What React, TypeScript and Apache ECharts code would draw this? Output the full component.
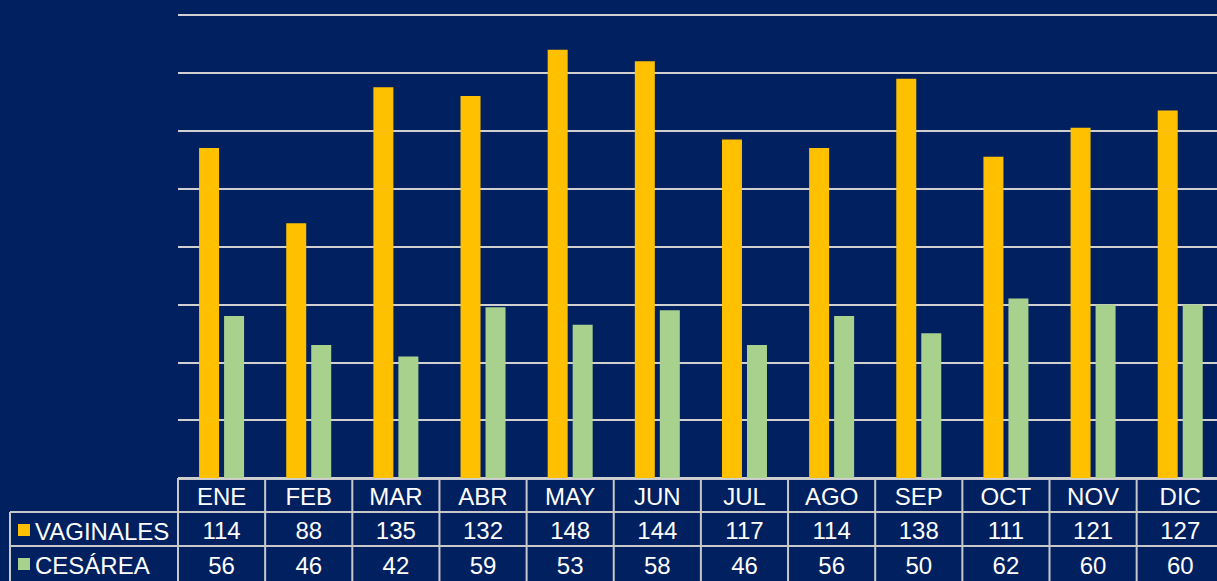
import React, { useEffect, useRef } from "react";
import * as echarts from "echarts";

const months = ["ENE", "FEB", "MAR", "ABR", "MAY", "JUN", "JUL", "AGO", "SEP", "OCT", "NOV", "DIC"];
const vaginales = [114, 88, 135, 132, 148, 144, 117, 114, 138, 111, 121, 127];
const cesarea = [56, 46, 42, 59, 53, 58, 46, 56, 50, 62, 60, 60];
const seriesNames = ["VAGINALES", "CESÁREA"];

const BG = "#002060";
const C_VAG = "#FFC000";
const C_CES = "#A9D18E";
const BORDER = "#C8C8C8";
const FONT = "Liberation Sans, Arial, sans-serif";
const FS = 24;

const W = 1240;
const H = 581;
const GRID_LEFT = 178;
const GRID_TOP = 15;
const GRID_BOTTOM_Y = 478;
const COL_W = 87.15;
const ROW_H = 34;

export default function App() {
  const ref = useRef<HTMLDivElement>(null);
  useEffect(() => {
    if (!ref.current) return;
    const chart = echarts.init(ref.current, null, { renderer: "svg" });
    const gridRight = W - (GRID_LEFT + COL_W * months.length);
    const tableRight = W;

    const graphics: any[] = [];
    graphics.push({ type: "line", shape: { x1: GRID_LEFT, y1: GRID_BOTTOM_Y + 1, x2: tableRight, y2: GRID_BOTTOM_Y + 1 }, style: { stroke: BORDER, lineWidth: 2 } });
    graphics.push({ type: "line", shape: { x1: 10, y1: GRID_BOTTOM_Y + ROW_H, x2: tableRight, y2: GRID_BOTTOM_Y + ROW_H }, style: { stroke: BORDER, lineWidth: 2 } });
    graphics.push({ type: "line", shape: { x1: 10, y1: GRID_BOTTOM_Y + 2 * ROW_H, x2: tableRight, y2: GRID_BOTTOM_Y + 2 * ROW_H }, style: { stroke: BORDER, lineWidth: 2 } });
    graphics.push({ type: "line", shape: { x1: 10, y1: GRID_BOTTOM_Y + ROW_H, x2: 10, y2: H + 5 }, style: { stroke: BORDER, lineWidth: 2 } });
    for (let i = 0; i <= months.length; i++) {
      const x = GRID_LEFT + i * COL_W;
      graphics.push({ type: "line", shape: { x1: x, y1: GRID_BOTTOM_Y, x2: x, y2: H + 5 }, style: { stroke: BORDER, lineWidth: 2 } });
    }
    const colors = [C_VAG, C_CES];
    seriesNames.forEach((name, r) => {
      const cy = GRID_BOTTOM_Y + ROW_H * (r + 1) + ROW_H / 2 + 1;
      graphics.push({ type: "rect", shape: { x: 18, y: cy - 6, width: 12, height: 12 }, style: { fill: colors[r] } });
      graphics.push({
        type: "text",
        x: 35,
        y: cy + 1,
        style: { text: name, fill: "#FFFFFF", font: `${FS}px ${FONT}`, textVerticalAlign: "middle", textAlign: "left" },
      });
    });

    const valueAxis = (data: number[], offset: number) => ({
      type: "category",
      data: data.map(String),
      position: "bottom",
      offset,
      axisLine: { show: false },
      axisTick: { show: false },
      axisLabel: { color: "#FFFFFF", fontSize: FS, fontFamily: FONT, margin: 18, verticalAlign: "middle", interval: 0 },
    });

    chart.setOption({
      animation: false,
      backgroundColor: BG,
      grid: { left: GRID_LEFT, right: gridRight, top: GRID_TOP, bottom: H - GRID_BOTTOM_Y, containLabel: false },
      xAxis: [
        {
          type: "category",
          data: months,
          position: "bottom",
          axisLine: { show: false },
          axisTick: { show: false },
          axisLabel: { color: "#FFFFFF", fontSize: FS, fontFamily: FONT, margin: 18, verticalAlign: "middle", interval: 0 },
        },
        valueAxis(vaginales, ROW_H),
        valueAxis(cesarea, ROW_H * 2 + 1),
      ],
      yAxis: {
        type: "value",
        min: 0,
        max: 160,
        interval: 20,
        axisLabel: { show: false },
        axisLine: { show: false },
        axisTick: { show: false },
        splitLine: { lineStyle: { color: "#D0D0D0", width: 2 } },
      },
      series: [
        { name: seriesNames[0], type: "bar", data: vaginales, itemStyle: { color: C_VAG }, barWidth: 20, barGap: "25%" },
        { name: seriesNames[1], type: "bar", data: cesarea, itemStyle: { color: C_CES }, barWidth: 20, barGap: "25%" },
      ],
      graphic: graphics,
    });
    return () => chart.dispose();
  }, []);
  return <div ref={ref} style={{ position: "fixed", left: 0, top: 0, width: W, height: H }} />;
}
